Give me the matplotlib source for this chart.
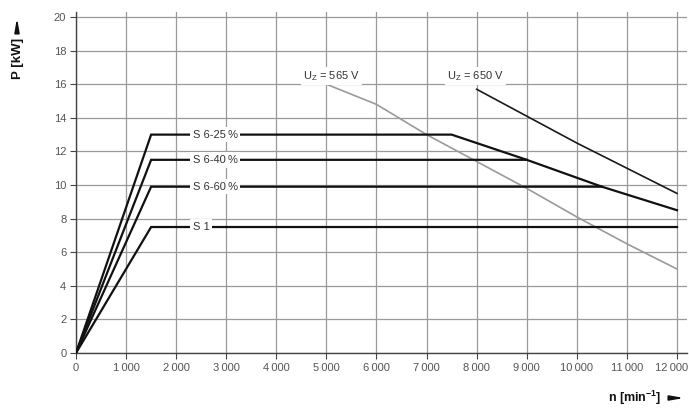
import matplotlib
matplotlib.use("Agg")
import matplotlib.pyplot as plt
import matplotlib.transforms as mtransforms
from matplotlib.patches import FancyArrowPatch

plt.rcParams["font.family"] = ["Liberation Sans", "DejaVu Sans"]
plt.rcParams["mathtext.fontset"] = "custom"
plt.rcParams["mathtext.rm"] = "Liberation Sans"
plt.rcParams["mathtext.bf"] = "Liberation Sans:bold"

# --- data ---
s25_n = [0, 1500, 7500, 9000, 10500, 12000]
s25_p = [0, 13.0, 13.0, 11.5, 9.9, 8.5]
s40_n = [0, 1500, 9000]
s40_p = [0, 11.5, 11.5]
s60_n = [0, 1500, 10500]
s60_p = [0, 9.9, 9.9]
s1_n = [0, 1500, 12000]
s1_p = [0, 7.5, 7.5]
uz565_n = [5000, 6000, 7000, 8000, 9000, 10000, 11000, 12000]
uz565_p = [16.0, 14.8, 13.0, 11.4, 9.8, 8.1, 6.5, 5.0]
uz650_n = [8000, 9000, 10000, 11000, 12000]
uz650_p = [15.7, 14.1, 12.5, 11.0, 9.5]
mode_labels = ["S 6-25\u2009%", "S 6-40\u2009%", "S 6-60\u2009%", "S 1"]
mode_levels = [13.0, 11.5, 9.9, 7.5]
x_ticks = list(range(0, 12001, 1000))
x_ticklabels = ["0", "1\u2009000", "2\u2009000", "3\u2009000", "4\u2009000", "5\u2009000",
                "6\u2009000", "7\u2009000", "8\u2009000", "9\u2009000", "10\u2009000",
                "11\u2009000", "12\u2009000"]
y_ticks = list(range(0, 21, 2))

fig = plt.figure(figsize=(6.89, 4.08), dpi=100)
ax = fig.add_axes([0.1103, 0.1348, 0.9971 - 0.1103, 0.9706 - 0.1348])
ax.set_xlim(0, 12200)
ax.set_ylim(0, 20.3)
ax.set_xticks(x_ticks)
ax.set_xticklabels(x_ticklabels)
ax.set_yticks(y_ticks)
ax.grid(True, color="#9a9a9a", linewidth=0.9)
ax.set_axisbelow(True)
for s in ["top", "right"]:
    ax.spines[s].set_visible(False)
for s in ["left", "bottom"]:
    ax.spines[s].set_color("#444444")
    ax.spines[s].set_linewidth(1.0)
ax.tick_params(axis="both", labelsize=8, labelcolor="#555555", color="#444444",
               length=4, width=0.8, pad=3)

# keep the last x tick label inside the figure
last = ax.get_xticklabels()[-1]
last.set_transform(last.get_transform() + mtransforms.ScaledTranslation(-5 / 100, 0, fig.dpi_scale_trans))

lw = 1.6
for n, p in [(s1_n, s1_p), (s60_n, s60_p), (s40_n, s40_p), (s25_n, s25_p)]:
    ax.plot(n, p, color="#111111", linewidth=lw, solid_joinstyle="miter", zorder=3)
ax.plot(uz565_n, uz565_p, color="#9a9a9a", linewidth=1.2, zorder=2.5)
ax.plot(uz650_n, uz650_p, color="#1a1a1a", linewidth=1.2, zorder=2.5)

for lab, lev in zip(mode_labels, mode_levels):
    ax.text(2330, lev, lab, fontsize=8, color="#333333", ha="left", va="center",
            zorder=4, bbox=dict(boxstyle="square,pad=0.25", fc="white", ec="none"))

ax.text(4530, 16.5, "U$_\\mathregular{Z}$ = 565 V", fontsize=8, color="#333333",
        ha="left", va="center", zorder=4,
        bbox=dict(boxstyle="square,pad=0.2", fc="white", ec="none"))
ax.text(7405, 16.5, "U$_\\mathregular{Z}$ = 650 V", fontsize=8, color="#333333",
        ha="left", va="center", zorder=4,
        bbox=dict(boxstyle="square,pad=0.2", fc="white", ec="none"))

# axis labels with arrows
fig.text(18 / 689, 1 - 58 / 408, "P [kW]", rotation=90, fontsize=9.5, fontweight="bold",
         ha="center", va="center", color="#111111")
fig.add_artist(FancyArrowPatch(
    (17 / 689, 1 - 31 / 408), (17 / 689, 1 - 15 / 408), transform=fig.transFigure,
    arrowstyle="-|>,head_length=8,head_width=1.4", color="#111111", linewidth=1.2,
    mutation_scale=1))
fig.text(635 / 689, 1 - 398 / 408, "n [min$^{\\mathbf{-1}}$]", fontsize=9, fontweight="bold",
         ha="center", va="center", color="#111111")
fig.add_artist(FancyArrowPatch(
    (671 / 689, 1 - 398 / 408), (687 / 689, 1 - 398 / 408), transform=fig.transFigure,
    arrowstyle="-|>,head_length=8,head_width=1.4", color="#111111", linewidth=1.2,
    mutation_scale=1))

fig.savefig("out.png", dpi=100)
